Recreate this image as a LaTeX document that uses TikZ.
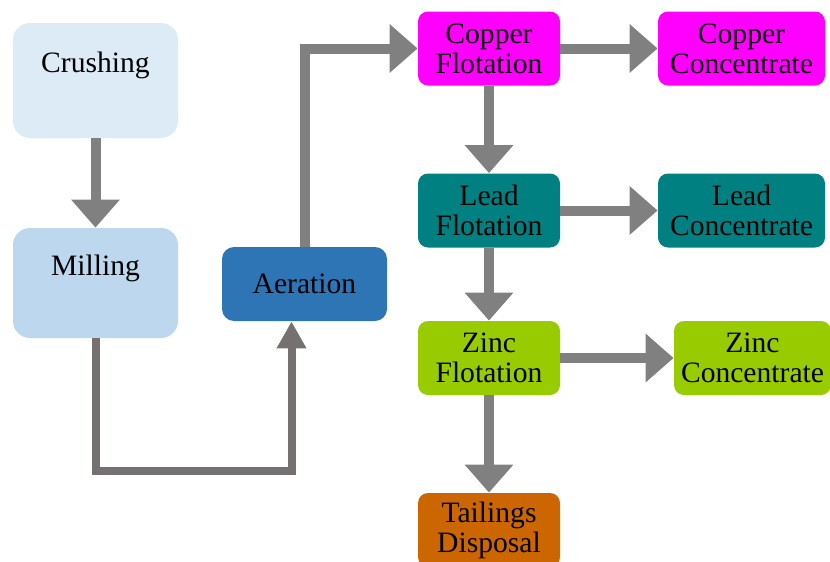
\documentclass[tikz,border=0pt]{standalone}
\usepackage{fontspec}
\setmainfont{Liberation Serif}
\newfontfamily\flowfont{Liberation Serif}
\usetikzlibrary{arrows.meta}

\definecolor{crushfill}{HTML}{DDEBF7}
\definecolor{millfill}{HTML}{BDD7EE}
\definecolor{aerfill}{HTML}{2E75B6}
\definecolor{copperfill}{HTML}{FF00FF}
\definecolor{leadfill}{HTML}{008080}
\definecolor{zincfill}{HTML}{99CC00}
\definecolor{tailfill}{HTML}{CC6600}
\definecolor{flowgray}{HTML}{808080}
\definecolor{loopgray}{HTML}{767171}

\tikzset{
  box/.style={rectangle, draw=none, align=center, inner sep=0pt,
    font=\flowfont\fontsize{14.8pt}{15pt}\selectfont, text=black},
  stage/.style={box, rounded corners=5pt, minimum width=71pt, minimum height=37pt},
  product/.style={box, rounded corners=5pt, minimum height=37pt},
  prep/.style={box, rounded corners=8.5pt, minimum width=82.5pt},
  flow/.style={draw=flowgray, line width=5pt,
    -{Triangle[width=23.5pt, length=14pt]}},
  loop/.style={draw=loopgray, line width=4pt,
    -{Triangle[width=14pt, length=13.5pt]}},
}

\begin{document}
\begin{tikzpicture}[x=0.5pt, y=-0.5pt]
  \useasboundingbox (0,0) rectangle (830,562);

  % grinding circuit
  \node[prep, fill=crushfill, text height=24.5pt, text depth=33pt] (crush) at (95.5,80.5) {Crushing};
  \node[prep, fill=millfill, text height=23.5pt, text depth=31.5pt] (mill) at (95.5,283) {Milling};
  \node[box, fill=aerfill, rounded corners=6pt, minimum width=82.5pt, minimum height=37pt] (aer) at (304.5,284) {Aeration};

  % flotation stages
  \node[stage, fill=copperfill] (cop) at (489,48.5) {Copper\\Flotation};
  \node[stage, fill=leadfill] (lead) at (489,210.5) {Lead\\Flotation};
  \node[stage, fill=zincfill] (zinc) at (489,358) {Zinc\\Flotation};
  \node[stage, fill=tailfill] (tail) at (489,530) {Tailings\\Disposal};

  % concentrates
  \node[product, fill=copperfill, minimum width=83.5pt] (copc) at (741.5,48.5) {Copper\\Concentrate};
  \node[product, fill=leadfill, minimum width=83.5pt] (leadc) at (741.5,210.5) {Lead\\Concentrate};
  \node[product, fill=zincfill, minimum width=78.5pt] (zincc) at (752.5,358) {Zinc\\Concentrate};

  \coordinate (loopin) at ([xshift=-6.5pt]aer.south);

  % connectors
  \draw[flow] (crush.south) -- (mill.north);
  \draw[loop] (mill.south) -- (mill.south |- 0,471) -| (loopin);
  \draw[flow] (aer.north) |- (cop.west);
  \draw[flow] (cop.east) -- (copc.west);
  \draw[flow] (cop.south) -- (lead.north);
  \draw[flow] (lead.east) -- (leadc.west);
  \draw[flow] (lead.south) -- (zinc.north);
  \draw[flow] (zinc.east) -- (zincc.west);
  \draw[flow] (zinc.south) -- (tail.north);
\end{tikzpicture}
\end{document}
